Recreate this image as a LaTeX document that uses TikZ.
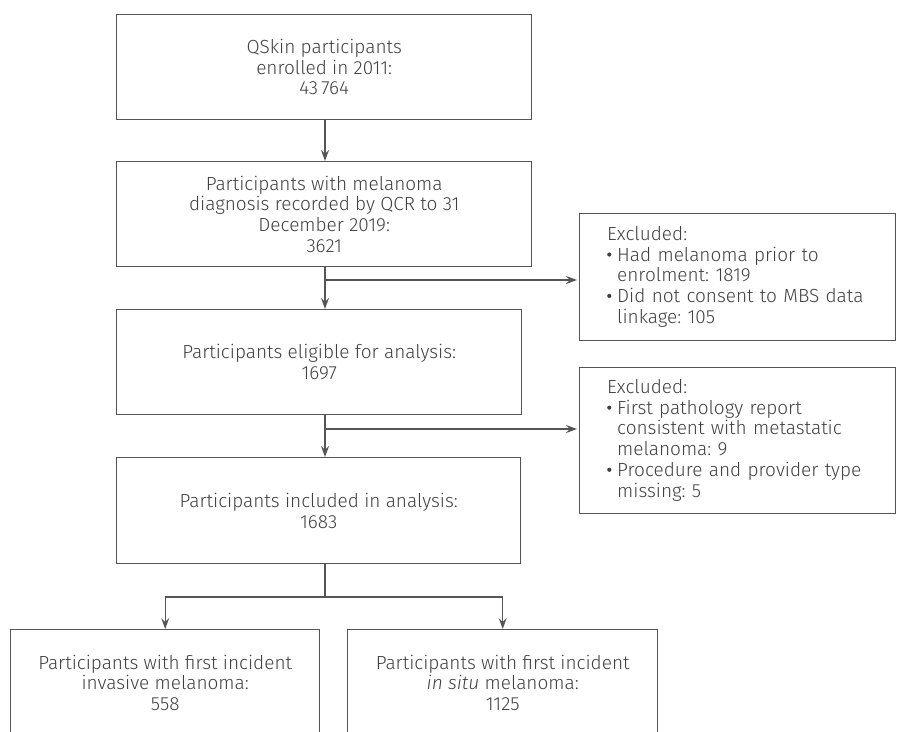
\documentclass[tikz,border=0pt]{standalone}
\usepackage{fontspec}
\IfFontExistsTF{Fira Sans Book}
  {\setmainfont{Fira Sans Book}[ItalicFont={Fira Sans Book Italic}]}
  {\setmainfont{Fira Sans Light}[ItalicFont={Fira Sans Light Italic}]}
\usetikzlibrary{arrows.meta, positioning}
\frenchspacing

\definecolor{linegray}{HTML}{555555}
\definecolor{textgray}{HTML}{404040}
\newcommand{\boxfont}{\fontsize{19pt}{20.7pt}\selectfont}
\newcommand{\exitem}{\makebox[10pt][l]{\raisebox{4.5pt}{\tikz\fill[textgray] (0,0) circle (2.1pt);}}}
\newcommand{\exmore}{\hspace*{10pt}}

\begin{document}
\begin{tikzpicture}[x=1pt, y=-1pt, line width=1.4pt,
    flowbox/.style={draw=linegray, text=textgray, font=\boxfont, align=center, inner sep=0pt, anchor=north west},
    exbox/.style={draw=linegray, text=textgray, font=\boxfont, align=left, inner xsep=28pt, text width=260pt, anchor=north west},
    arr/.style={draw=linegray, -{Stealth[length=11pt, width=8pt, inset=4pt]}}]
    \useasboundingbox (0,0) rectangle (899,731);

    % Nodes
    \node[flowbox, minimum width=415pt, minimum height=105pt] (enrolled) at (116,14)
        {QSkin participants\\enrolled in 2011:\\43\,764};
    \node[flowbox, minimum width=415pt, minimum height=105pt] (diagnosed) at (116,161)
        {Participants with melanoma\\diagnosis recorded by QCR to 31\\December 2019:\\3621};
    \node[flowbox, minimum width=405pt, minimum height=105pt] (eligible) at (116,309)
        {Participants eligible for analysis:\\1697};
    \node[flowbox, minimum width=404pt, minimum height=106pt] (included) at (116,457)
        {Participants included in analysis:\\1683};
    \node[flowbox, minimum width=309pt, minimum height=106pt] (invasive) at (10,629)
        {Participants with first incident\\invasive melanoma:\\558};
    \node[flowbox, minimum width=310pt, minimum height=106pt] (insitu) at (347,629)
        {Participants with first incident\\\textit{in situ} melanoma:\\1125};

    \node[exbox, minimum height=127pt] (excl1) at (579,213)
        {Excluded:\\
         \exitem\mbox{Had melanoma prior to}\\
         \exmore\mbox{enrolment: 1819}\\
         \exitem\mbox{Did not consent to MBS data}\\
         \exmore\mbox{linkage: 105}};
    \node[exbox, minimum height=146pt] (excl2) at (579,367)
        {Excluded:\\
         \exitem\mbox{First pathology report}\\
         \exmore\mbox{consistent with metastatic}\\
         \exmore\mbox{melanoma: 9}\\
         \exitem\mbox{Procedure and provider type}\\
         \exmore\mbox{missing: 5}};

    \coordinate (spine) at (325,0);
    \coordinate (fork1) at (325,280);
    \coordinate (fork2) at (325,429);
    \coordinate (split) at (325,597);

    % Edges
    \draw[arr] (enrolled.south -| spine) -- (diagnosed.north -| spine);
    \draw[arr] (diagnosed.south -| spine) -- (eligible.north -| spine);
    \draw[arr] (eligible.south -| spine) -- (included.north -| spine);
    \draw[arr, shorten >=2pt] (fork1) -- (fork1 -| excl1.west);
    \draw[arr, shorten >=2pt] (fork2) -- (fork2 -| excl2.west);
    \draw[draw=linegray] (included.south -| spine) -- (split);
    \draw[arr] (split) -| (invasive.north);
    \draw[arr] (split) -| (insitu.north);
\end{tikzpicture}
\end{document}
